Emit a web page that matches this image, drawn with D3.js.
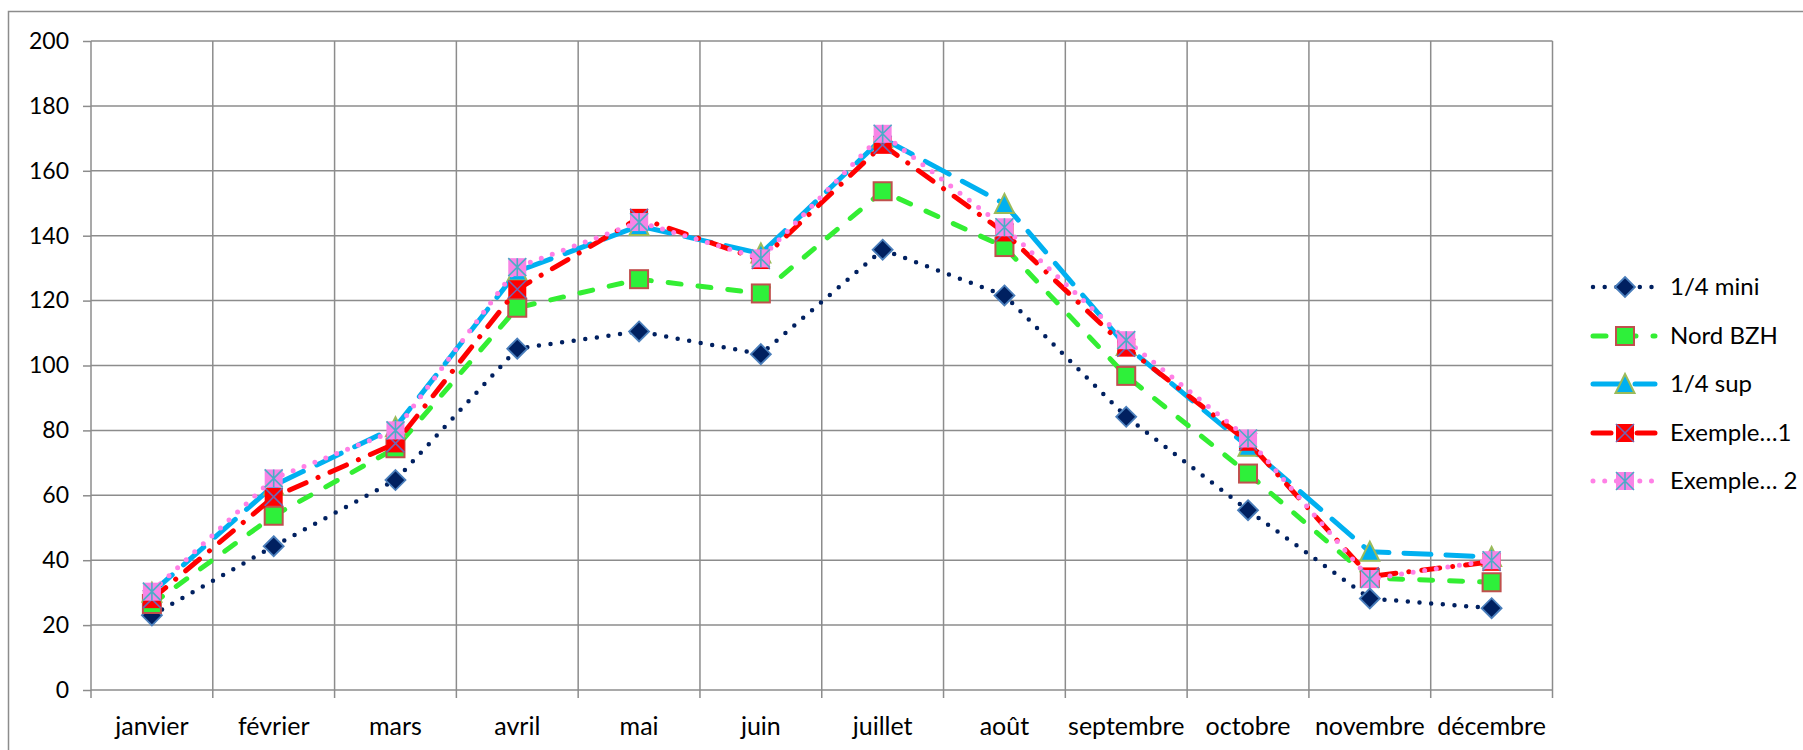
<!DOCTYPE html>
<html>
<head>
<meta charset="utf-8">
<script src="https://cdn.jsdelivr.net/npm/d3@7/dist/d3.min.js"></script>
<style>
  html, body { margin: 0; padding: 0; background: #fff; }
  svg { display: block; }
  text { font-family: Lato, "Noto Sans", sans-serif; fill: #000; }
</style>
</head>
<body>
<svg id="chart" width="1803" height="750"></svg>
<script>
// Months on the category axis
const months = ["janvier", "février", "mars", "avril", "mai", "juin",
  "juillet", "août", "septembre", "octobre", "novembre", "décembre"];

// Series values per month
const quartMini = [23, 44.3, 64.7, 105.2, 110.5, 103.5, 135.7, 121.6, 84.2, 55.4, 28.2, 25.2];
const nordBzh   = [26.5, 53.7, 74.5, 117.8, 126.6, 122.2, 153.7, 136.5, 96.8, 66.7, 34.5, 33.2];
const quartSup  = [30, 63, 81, 129, 143, 134.5, 170, 149.8, 106, 75, 42.6, 41];
const exemple1  = [28, 59.5, 76, 123.5, 145.5, 132.5, 168, 141, 105.5, 76.5, 35, 39.5];
const exemple2  = [30.3, 65.2, 80, 130.3, 144.2, 133, 171.4, 142.6, 107.8, 77.5, 34.2, 40];

// Value axis ticks
const yTicks = [0, 20, 40, 60, 80, 100, 120, 140, 160, 180, 200];

const seriesNames = ["1/4 mini", "Nord BZH", "1/4 sup", "Exemple…1", "Exemple… 2"];
const seriesValues = [quartMini, nordBzh, quartSup, exemple1, exemple2];

// Line and marker styling per series
const styles = [
  { stroke: "#002060", width: 4.5, dash: "0 11.7", cap: "round",
    marker: "diamond", fill: "#002060", edge: "#4a7ebb" },
  { stroke: "#33ee33", width: 5, dash: "13 17", cap: "round",
    marker: "square", fill: "#2ef03a", edge: "#c0504d" },
  { stroke: "#00b0f0", width: 5, dash: "27 15", cap: "round",
    marker: "triangle", fill: "#00b0f0", edge: "#9bbb59" },
  { stroke: "#ff0000", width: 5, dash: "18 13 0.1 13", cap: "round",
    marker: "xsquare", fill: "#ff0000", edge: "#ff0000", cross: "#7266b0" },
  { stroke: "#ff80e6", width: 5, dash: "0 11.7", cap: "round",
    marker: "starsquare", fill: "#f884e6", edge: "#f884e6", cross: "#4bacc6" }
];

const svg = d3.select("#chart");

// Chart frame
svg.append("rect")
  .attr("x", 8.5).attr("y", 11.5)
  .attr("width", 1820).attr("height", 800)
  .attr("fill", "none").attr("stroke", "#8c8c8c").attr("stroke-width", 1.5);

const plotLeft = 91, plotRight = 1552.5, plotTop = 41, plotBottom = 690;

const x = d3.scaleBand().domain(months).range([plotLeft, plotRight]).padding(0);
const xEdge = d3.scaleLinear().domain([0, months.length]).range([plotLeft, plotRight]);
const y = d3.scaleLinear().domain([0, 200]).range([plotBottom, plotTop]);

const gridColor = "#8c8c8c";

// Horizontal gridlines with tick marks and labels
const yAxis = svg.append("g")
  .attr("transform", `translate(${plotLeft},0)`)
  .call(d3.axisLeft(y).tickValues(yTicks).tickSize(8).tickPadding(14));
yAxis.select(".domain").remove();
yAxis.selectAll("line").attr("stroke", gridColor).attr("stroke-width", 1.5);
yAxis.selectAll("text").attr("font-size", 23).attr("fill", "#000");

svg.append("g").selectAll("line")
  .data(yTicks)
  .join("line")
  .attr("x1", plotLeft).attr("x2", plotRight)
  .attr("y1", d => y(d)).attr("y2", d => y(d))
  .attr("stroke", gridColor).attr("stroke-width", 1.5);

// Vertical gridlines at category boundaries, extended below the axis as tick marks
svg.append("g").selectAll("line")
  .data(d3.range(months.length + 1))
  .join("line")
  .attr("x1", d => xEdge(d)).attr("x2", d => xEdge(d))
  .attr("y1", plotTop).attr("y2", plotBottom + 8)
  .attr("stroke", gridColor).attr("stroke-width", 1.5);

// Category labels
const xAxis = svg.append("g")
  .attr("transform", `translate(0,${plotBottom})`)
  .call(d3.axisBottom(x).tickSize(0).tickPadding(27));
xAxis.select(".domain").remove();
xAxis.selectAll("text").attr("font-size", 25).attr("fill", "#000");

// Marker drawing
function drawMarker(g, st, cx, cy) {
  const s = 9;
  if (st.marker === "diamond") {
    g.append("path")
      .attr("d", `M${cx},${cy - s - 1}L${cx + s + 1},${cy}L${cx},${cy + s + 1}L${cx - s - 1},${cy}Z`)
      .attr("fill", st.fill).attr("stroke", st.edge).attr("stroke-width", 1.8);
  } else if (st.marker === "square") {
    g.append("rect")
      .attr("x", cx - s).attr("y", cy - s).attr("width", 2 * s).attr("height", 2 * s)
      .attr("fill", st.fill).attr("stroke", st.edge).attr("stroke-width", 2);
  } else if (st.marker === "triangle") {
    g.append("path")
      .attr("d", `M${cx},${cy - s - 1}L${cx + s + 0.5},${cy + s}L${cx - s - 0.5},${cy + s}Z`)
      .attr("fill", st.fill).attr("stroke", st.edge).attr("stroke-width", 2);
  } else {
    g.append("rect")
      .attr("x", cx - s).attr("y", cy - s).attr("width", 2 * s).attr("height", 2 * s)
      .attr("fill", st.fill);
    let d = `M${cx - s},${cy - s}L${cx + s},${cy + s}M${cx + s},${cy - s}L${cx - s},${cy + s}`;
    if (st.marker === "starsquare") d += `M${cx},${cy - s}L${cx},${cy + s}`;
    g.append("path").attr("d", d)
      .attr("stroke", st.cross).attr("stroke-width", 1.6).attr("fill", "none");
  }
}

const line = d3.line()
  .x((d, i) => x(months[i]) + x.bandwidth() / 2)
  .y(d => y(d));

// Series: line first, then its markers
seriesValues.forEach((vals, k) => {
  const st = styles[k];
  const g = svg.append("g");
  g.append("path")
    .datum(vals)
    .attr("d", line)
    .attr("fill", "none")
    .attr("stroke", st.stroke)
    .attr("stroke-width", st.width)
    .attr("stroke-dasharray", st.dash)
    .attr("stroke-linecap", st.cap)
    .attr("stroke-linejoin", "round");
  vals.forEach((v, i) => drawMarker(g, st, x(months[i]) + x.bandwidth() / 2, y(v)));
});

// Legend
const legendY = [287, 336, 384, 433, 481];
const lg = svg.append("g");
seriesNames.forEach((name, k) => {
  const st = styles[k];
  const ly = legendY[k];
  const g = lg.append("g");
  g.append("line")
    .attr("x1", 1593).attr("x2", 1655).attr("y1", ly).attr("y2", ly)
    .attr("stroke", st.stroke).attr("stroke-width", st.width)
    .attr("stroke-dasharray", st.dash).attr("stroke-linecap", st.cap);
  drawMarker(g, st, 1625, ly);
  g.append("text")
    .attr("x", 1670).attr("y", ly).attr("dy", "0.35em")
    .attr("font-size", 24)
    .text(name);
});
</script>
</body>
</html>
